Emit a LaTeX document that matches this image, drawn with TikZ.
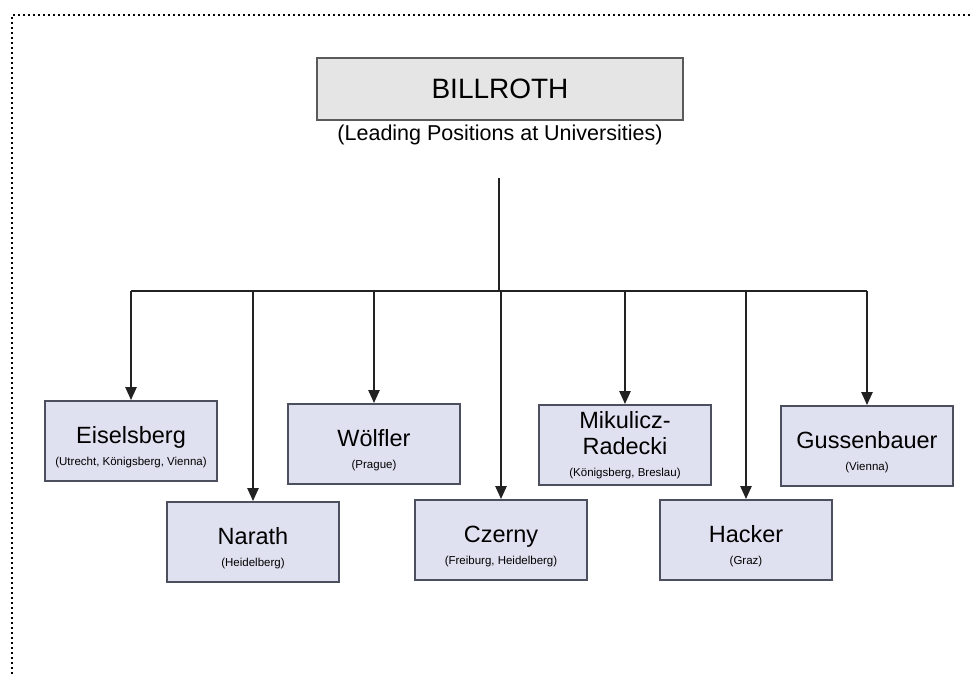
\documentclass[tikz,border=0pt]{standalone}
\usepackage{fontspec}
\setmainfont{Liberation Sans}
\usetikzlibrary{arrows.meta,positioning}
\definecolor{boxfill}{HTML}{DFE1F0}
\definecolor{boxline}{HTML}{4B4F5E}
\definecolor{topfill}{HTML}{E5E5E5}
\definecolor{topline}{HTML}{5A5A5A}
\definecolor{conline}{HTML}{222222}
\newcommand{\placefont}{\fontsize{11.5}{14}\selectfont}
\begin{document}
\begin{tikzpicture}[x=1pt,y=-1pt,
  box/.style={draw=boxline, fill=boxfill, line width=1.8pt, minimum width=172pt, minimum height=80pt, inner sep=0pt, align=center, font=\fontsize{23.5}{26}\selectfont},
  con/.style={draw=conline, line width=2.4pt},
  arr/.style={con, -{Triangle[length=13pt,width=11pt]}}]
\useasboundingbox (0,0) rectangle (972,675);
\draw[line width=1.8pt, dash pattern=on 1.6pt off 3.4pt] (975,15) -- (12,15) -- (12,680);
\node [draw=topline, fill=topfill, line width=1.6pt, minimum width=366pt, minimum height=62pt, font=\fontsize{28}{32}\selectfont] (b) at (500,89) {BILLROTH};
\node [font=\fontsize{21.5}{25}\selectfont, below=2pt of b, inner sep=2pt] (s) {(Leading Positions at Universities)};
\node [box] (e) at (131,441) {\rule{0pt}{30pt}Eiselsberg\\[-4pt]{\placefont (Utrecht, Königsberg, Vienna)}};
\node [box] (n) at (253,542) {\rule{0pt}{30pt}Narath\\[-4pt]{\placefont (Heidelberg)}};
\node [box] (w) at (374,444) {\rule{0pt}{30pt}Wölfler\\[-4pt]{\placefont (Prague)}};
\node [box] (c) at (501,540) {\rule{0pt}{30pt}Czerny\\[-4pt]{\placefont (Freiburg, Heidelberg)}};
\node [box] (m) at (625,445) {Mikulicz-\\Radecki\\[-4pt]{\placefont (Königsberg, Breslau)}};
\node [box] (h) at (746,540) {\rule{0pt}{30pt}Hacker\\[-4pt]{\placefont (Graz)}};
\node [box] (g) at (867,446) {\rule{0pt}{30pt}Gussenbauer\\[-4pt]{\placefont (Vienna)}};
\coordinate (t) at (499,178);
\coordinate (j) at (499,291);
\draw[con] (t) -- (j);
\draw[con] (e.north |- j) -- (g.north |- j);
\draw[arr] (e.north |- j) -- (e.north);
\draw[arr] (n.north |- j) -- (n.north);
\draw[arr] (w.north |- j) -- (w.north);
\draw[arr] (c.north |- j) -- (c.north);
\draw[arr] (m.north |- j) -- (m.north);
\draw[arr] (h.north |- j) -- (h.north);
\draw[arr] (g.north |- j) -- (g.north);
\end{tikzpicture}
\end{document}
